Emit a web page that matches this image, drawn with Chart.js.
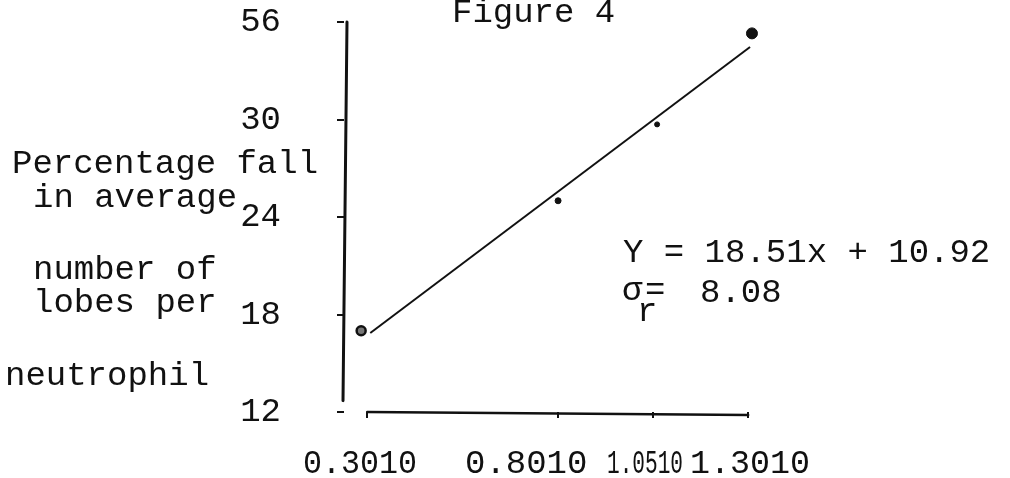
<!DOCTYPE html>
<html>
<head>
<meta charset="utf-8">
<script src="https://cdn.jsdelivr.net/npm/chart.js@4"></script>
<style>
  html, body { margin: 0; padding: 0; background: #fff; }
  #wrap { width: 1010px; height: 478px; }
</style>
</head>
<body>
<div id="wrap"><canvas id="fig4" width="1010" height="478"></canvas></div>
<script>
// Values
const xTickValues = [0.301, 0.801, 1.051, 1.301];
const xTickLabels = ['0.3010', '0.8010', '1.0510', '1.3010'];
const yTickValues = [12, 18, 24, 30, 36];
const yTickLabels = ['12', '18', '24', '30', '56'];

const pointX = [0.285, 0.802, 1.062, 1.311];
const pointY = [17.0, 25.0, 29.7, 35.3];

// fitted line as drawn (end points)
const fitX = [0.309, 1.306];
const fitY = [16.86, 34.46];

const titleText = 'Figure 4';
const yTitleLines = ['Percentage fall', 'in average', 'number of', 'lobes per', 'neutrophil'];
const equationText = 'Y = 18.51x + 10.92';
const sigmaText = ['σ', 'r', '=', '8.08'];

const typeFont = '"Liberation Mono", "DejaVu Sans Mono", monospace';
const ink = '#111';

// Draws the typed text and the hand drawn axis lines
const typedPaper = {
    id: 'typedPaper',
    afterDraw(chart) {
        const ctx = chart.ctx;
        const x = chart.scales.x;
        const y = chart.scales.y;
        ctx.save();
        ctx.strokeStyle = ink;
        ctx.lineCap = 'round';

        // y axis
        ctx.lineWidth = 3;
        ctx.beginPath();
        ctx.moveTo(x.left + 3, y.getPixelForValue(36));
        ctx.lineTo(x.left - 1, y.getPixelForValue(12.7));
        ctx.stroke();

        // x axis
        ctx.lineWidth = 2.5;
        ctx.beginPath();
        ctx.moveTo(x.getPixelForValue(0.301), y.bottom);
        ctx.lineTo(x.getPixelForValue(1.301), y.bottom + 3);
        ctx.stroke();

        ctx.fillStyle = ink;
        ctx.font = '34px ' + typeFont;
        ctx.textBaseline = 'alphabetic';
        ctx.textAlign = 'left';

        // x tick labels, typed along one line
        const xLabelLeft = [303, 465, 607, 690];
        const xLabelWidth = [114, 127, 76, 120];
        xTickLabels.forEach((t, i) => ctx.fillText(t, xLabelLeft[i], 473, xLabelWidth[i]));

        ctx.fillText(titleText, 452, 22);

        const leftPos = [[12, 173], [33, 207], [33, 279], [33, 312], [5, 385]];
        yTitleLines.forEach((t, i) => ctx.fillText(t, leftPos[i][0], leftPos[i][1]));

        ctx.fillText(equationText, 623, 262);
        ctx.fillText(sigmaText[0], 622, 300);
        ctx.fillText(sigmaText[1], 637, 321);
        ctx.fillText(sigmaText[2], 645, 300);
        ctx.fillText(sigmaText[3], 700, 302);
        ctx.restore();
    }
};

const ctx = document.getElementById('fig4').getContext('2d');

new Chart(ctx, {
    type: 'scatter',
    data: {
        datasets: [
            {
                label: 'fit',
                type: 'line',
                data: fitX.map((v, i) => ({ x: v, y: fitY[i] })),
                borderColor: ink,
                borderWidth: 2,
                pointRadius: 0,
                fill: false,
                tension: 0
            },
            {
                label: 'observed',
                data: pointX.map((v, i) => ({ x: v, y: pointY[i] })),
                pointRadius: [4.5, 3, 2.5, 5.5],
                pointBackgroundColor: ['#777', ink, ink, ink],
                pointBorderColor: ink,
                pointBorderWidth: [2.5, 1, 1, 1]
            }
        ]
    },
    options: {
        responsive: false,
        animation: false,
        events: [],
        layout: {
            padding: { left: 0, top: 22, right: 247, bottom: 0 }
        },
        scales: {
            x: {
                type: 'linear',
                min: 0.24,
                max: 1.34,
                afterBuildTicks: axis => {
                    axis.ticks = xTickValues.map(v => ({ value: v }));
                },
                afterFit: axis => {
                    axis.height = 66;
                    axis.paddingLeft = 0;
                    axis.paddingRight = 0;
                },
                grid: {
                    drawOnChartArea: false,
                    drawTicks: true,
                    tickLength: 6,
                    color: ink,
                    lineWidth: 2
                },
                border: { display: false },
                ticks: { display: false }
            },
            y: {
                type: 'linear',
                min: 12,
                max: 36,
                afterBuildTicks: axis => {
                    axis.ticks = yTickValues.map(v => ({ value: v }));
                },
                afterFit: axis => {
                    axis.width = 344;
                    axis.paddingTop = 0;
                    axis.paddingBottom = 0;
                },
                grid: {
                    drawOnChartArea: false,
                    drawTicks: true,
                    tickLength: 7,
                    color: ink,
                    lineWidth: 2
                },
                border: { display: false },
                ticks: {
                    autoSkip: false,
                    padding: 56,
                    color: ink,
                    font: { family: typeFont, size: 34 },
                    callback: (value, index) => yTickLabels[index]
                }
            }
        },
        plugins: {
            legend: { display: false },
            tooltip: { enabled: false },
            title: { display: false }
        }
    },
    plugins: [typedPaper]
});
</script>
</body>
</html>
